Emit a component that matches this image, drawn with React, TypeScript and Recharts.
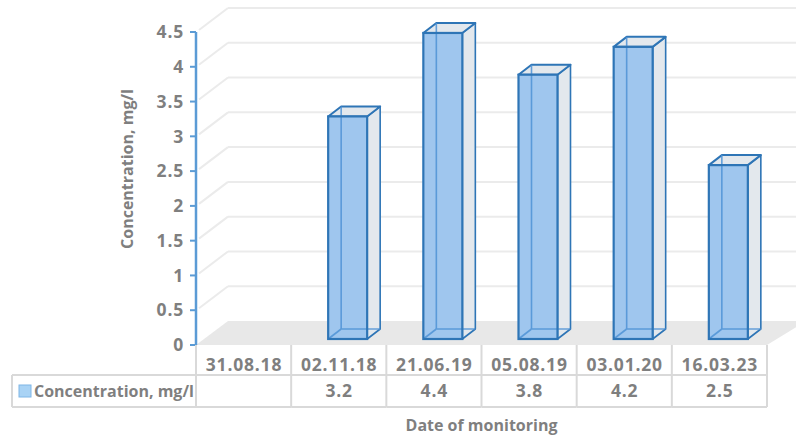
import React from 'react'
import { BarChart, Bar, XAxis, YAxis, CartesianGrid, Label } from 'recharts'

// data
const dates = ['31.08.18', '02.11.18', '21.06.19', '05.08.19', '03.01.20', '16.03.23']
const concentration: (number | null)[] = [null, 3.2, 4.4, 3.8, 4.2, 2.5]
const yTicks = [0, 0.5, 1, 1.5, 2, 2.5, 3, 3.5, 4, 4.5]
const seriesName = 'Concentration, mg/l'

const data = dates.map((d, i) => ({ date: d, conc: concentration[i] }))

// layout
const W = 796
const H = 439
const M = { top: 32, right: 29, bottom: 0, left: 0 }
const Y_AXIS_W = 196
const X_AXIS_H = 94
const PLOT_LEFT = M.left + Y_AXIS_W
const PLOT_BOTTOM = H - M.bottom - X_AXIS_H
const BAND = (W - PLOT_LEFT - M.right) / dates.length

// fake 3d: wall depth and bar placement in depth
const WALL_DX = 32
const WALL_DY = -24
const FRONT_DX = 9
const FRONT_DY = -6
const DEPTH_DX = 13
const DEPTH_DY = -10

const FONT = '"Open Sans", Lato, sans-serif'
const FS = 16
// digits in the original font are wide, so numbers get a bit more room
const NUM = { fontSize: 17.5, letterSpacing: 0.8 }
const TEXT = '#7f7f7f'
const GRID = '#ebebeb'
const TABLE = '#d9d9d9'
const EDGE = '#2e75b6'

const GridLine = (p: any) => {
  const { x1, y1, x2, index } = p
  if (Math.abs(y1 - PLOT_BOTTOM) < 1) {
    // floor
    return (
      <polygon
        key={`floor-${index}`}
        points={`${x1},${y1} ${x1 + WALL_DX},${y1 + WALL_DY} ${W + 10},${y1 + WALL_DY} ${x2},${y1}`}
        fill="#e8e8e8"
      />
    )
  }
  return (
    <g key={`grid-${index}`}>
      <line x1={x1 + 3} y1={y1 - 2} x2={x1 + WALL_DX} y2={y1 + WALL_DY} stroke={GRID} strokeWidth={2} />
      <line x1={x1 + WALL_DX} y1={y1 + WALL_DY} x2={W} y2={y1 + WALL_DY} stroke={GRID} strokeWidth={2} />
    </g>
  )
}

const Box3D = (p: any) => {
  const { x, y, width, height, payload } = p
  if (payload == null || payload.conc == null || !height) return null
  const fx = x + FRONT_DX
  const fy = y + FRONT_DY
  const r = fx + width
  const b = fy + height
  const bx = DEPTH_DX
  const by = DEPTH_DY
  return (
    <g>
      <polygon
        points={`${r},${fy} ${r + bx},${fy + by} ${r + bx},${b + by} ${r},${b}`}
        fill="#e3e8ed"
        stroke={EDGE}
        strokeWidth={1.6}
        strokeLinejoin="round"
      />
      <polygon
        points={`${fx},${fy} ${fx + bx},${fy + by} ${r + bx},${fy + by} ${r},${fy}`}
        fill="#e3e8ed"
        stroke={EDGE}
        strokeWidth={2}
        strokeLinejoin="round"
      />
      <rect x={fx} y={fy} width={width} height={height} fill="#9fc6ee" />
      {/* edges seen through the front face */}
      <g stroke="#4f93d6" strokeWidth={1.6} opacity={0.85}>
        <line x1={fx + bx} y1={fy + by} x2={fx + bx} y2={b + by} />
        <line x1={fx + bx} y1={b + by} x2={r + bx} y2={b + by} />
        <line x1={fx} y1={b} x2={fx + bx} y2={b + by} />
      </g>
      <rect x={fx} y={fy} width={width} height={height} fill="none" stroke={EDGE} strokeWidth={2.2} />
    </g>
  )
}

const TableTick = (p: any) => {
  const { x, y, payload, index } = p
  const i = index ?? payload.index
  const l = x - BAND / 2
  const r = x + BAND / 2
  const row1 = y + 30
  const row2 = y + 62
  const v = concentration[i]
  return (
    <g>
      <line x1={r} y1={y} x2={r} y2={row2} stroke={TABLE} strokeWidth={2} />
      <line x1={l} y1={row1} x2={r} y2={row1} stroke={TABLE} strokeWidth={2} />
      <line x1={l} y1={row2} x2={r} y2={row2} stroke={TABLE} strokeWidth={2} />
      {i === 0 && (
        <g>
          <line x1={l} y1={y} x2={l} y2={row2} stroke={TABLE} strokeWidth={2} />
          <line x1={12} y1={row1} x2={l} y2={row1} stroke={TABLE} strokeWidth={2} />
          <line x1={12} y1={row2} x2={l} y2={row2} stroke={TABLE} strokeWidth={2} />
          <line x1={12} y1={row1} x2={12} y2={row2} stroke={TABLE} strokeWidth={2} />
          <rect x={19} y={row1 + 10} width={12} height={12} fill="#a9d3f5" stroke="#7fb6e6" strokeWidth={1} />
          <text x={34} y={row1 + 22} fill={TEXT} fontSize={FS} fontWeight={700} fontFamily={FONT}>
            {seriesName}
          </text>
        </g>
      )}
      <text x={x + 0.4} y={y + 26} textAnchor="middle" fill={TEXT} fontWeight={700} fontFamily={FONT} {...NUM}>
        {payload.value}
      </text>
      {v != null && (
        <text x={x + 0.4} y={row1 + 22} textAnchor="middle" fill={TEXT} fontWeight={700} fontFamily={FONT} {...NUM}>
          {v}
        </text>
      )}
    </g>
  )
}

export default function App() {
  return (
    <div style={{ width: W, height: H, background: '#fff' }}>
      <style>{`body{margin:0}`}</style>
      <BarChart width={W} height={H} data={data} margin={M}>
        <CartesianGrid vertical={false} horizontal={GridLine} />
        <XAxis
          dataKey="date"
          height={X_AXIS_H}
          axisLine={false}
          tickLine={false}
          tickSize={0}
          tickMargin={0}
          interval={0}
          tick={TableTick}
        >
          <Label
            value="Date of monitoring"
            position="insideBottom"
            offset={8}
            fill={TEXT}
            fontSize={FS}
            fontWeight={700}
            fontFamily={FONT}
          />
        </XAxis>
        <YAxis
          width={Y_AXIS_W}
          domain={[0, 4.5]}
          ticks={yTicks}
          axisLine={{ stroke: '#5b9bd5', strokeWidth: 2.5 }}
          tickLine={{ stroke: '#5b9bd5', strokeWidth: 2 }}
          tickSize={6}
          tickMargin={6}
          tick={{ fill: TEXT, fontWeight: 700, fontFamily: FONT, ...NUM }}
        >
          <Label
            content={() => (
              <text
                x={127}
                y={169}
                transform="rotate(-90 127 169)"
                textAnchor="middle"
                dominantBaseline="central"
                fill={TEXT}
                fontSize={FS}
                fontWeight={700}
                fontFamily={FONT}
              >
                {seriesName}
              </text>
            )}
          />
        </YAxis>
        <Bar dataKey="conc" name={seriesName} barSize={39} shape={Box3D} isAnimationActive={false} />
      </BarChart>
    </div>
  )
}
